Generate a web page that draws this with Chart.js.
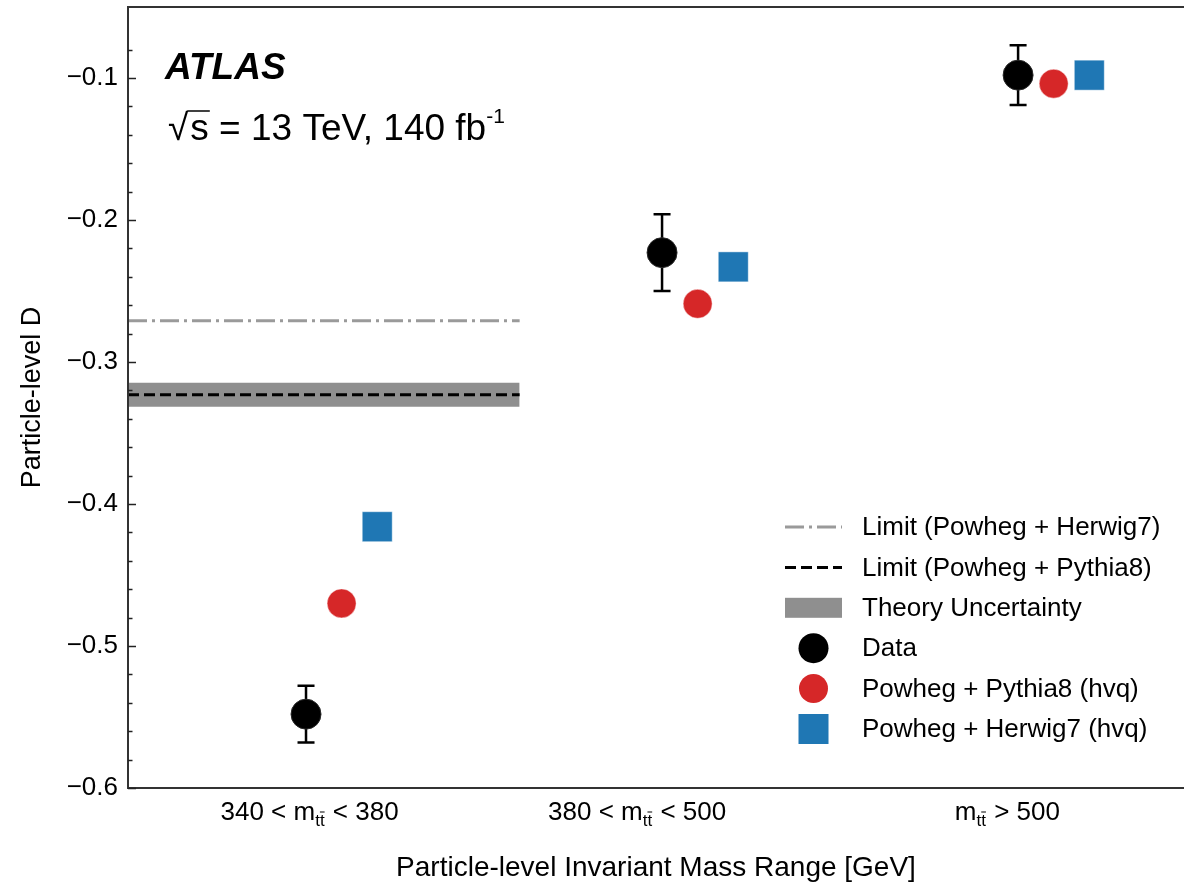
<!DOCTYPE html>
<html>
<head>
<meta charset="utf-8">
<script src="https://cdn.jsdelivr.net/npm/chart.js@4.4.0/dist/chart.umd.min.js"></script>
<style>
  html, body { margin: 0; padding: 0; background: #fff; overflow: hidden; }
</style>
</head>
<body>
<canvas id="myChart" width="1184" height="890"></canvas>
<script>
// bins (x = bin index)
const binCenters = [0, 1, 2];
const binPre = ['340 < m', '380 < m', 'm'];
const binPost = [' < 380', ' < 500', ' > 500'];

// particle-level D
const dataD = [-0.548, -0.223, -0.098];
const dataErr = [0.020, 0.027, 0.021];
const pythiaD = [-0.470, -0.259, -0.104];
const herwigD = [-0.416, -0.233, -0.098];

// limits + theory band (first bin only)
const limitHerwig = -0.271;
const limitPythia = -0.323;
const theoryLow = -0.3316;
const theoryHigh = -0.3147;
const limitSpan = [-0.5, 0.6];

const FONT = '"Liberation Sans", Arial, Helvetica, sans-serif';
const labelAt = [0.01, 0.93, 1.97];   // where the bin labels sit
const shiftPythia = 0.1, shiftHerwig = 0.2;
const xMax = 2.466;                   // right edge of the plot is cut off in the figure

function massLabel(ctx, cx, base, pre, post) {
  ctx.save();
  ctx.translate(cx, base);
  ctx.font = '26px ' + FONT;
  const w1 = ctx.measureText(pre).width;
  const w3 = ctx.measureText(post).width;
  ctx.font = '17px ' + FONT;
  const wt = ctx.measureText('t').width;
  const w2 = 2 * wt + 1;
  let xx = -(w1 + w2 + w3) / 2;
  ctx.fillStyle = '#000';
  ctx.textBaseline = 'alphabetic';
  ctx.font = '26px ' + FONT;
  ctx.fillText(pre, xx, 0);
  xx += w1;
  ctx.font = '17px ' + FONT;
  ctx.fillText('tt', xx, 6);
  ctx.strokeStyle = '#000'; ctx.lineWidth = 1;
  ctx.beginPath();
  ctx.moveTo(xx + wt, -8); ctx.lineTo(xx + 2 * wt, -8);
  ctx.stroke();
  xx += w2;
  ctx.font = '26px ' + FONT;
  ctx.fillText(post, xx, 0);
  ctx.restore();
}

const extras = {
  id: 'extras',
  beforeDatasetsDraw(chart) {
    const {ctx, scales: {x, y}} = chart;
    ctx.save();
    ctx.strokeStyle = '#000';
    ctx.lineWidth = 2.5;
    dataD.forEach((v, i) => {
      const px = x.getPixelForValue(binCenters[i]);
      const top = y.getPixelForValue(v + dataErr[i]);
      const bot = y.getPixelForValue(v - dataErr[i]);
      ctx.beginPath();
      ctx.moveTo(px, top); ctx.lineTo(px, bot);
      ctx.moveTo(px - 8.5, top); ctx.lineTo(px + 8.5, top);
      ctx.moveTo(px - 8.5, bot); ctx.lineTo(px + 8.5, bot);
      ctx.stroke();
    });
    ctx.restore();
  },
  afterDraw(chart) {
    const {ctx, chartArea: a, scales: {x, y}} = chart;
    ctx.save();

    // frame (no right edge in the figure)
    ctx.strokeStyle = '#333';
    ctx.lineWidth = 2;
    ctx.beginPath();
    ctx.moveTo(a.right, a.top); ctx.lineTo(a.left, a.top);
    ctx.lineTo(a.left, a.bottom); ctx.lineTo(a.right, a.bottom);
    ctx.stroke();

    // inward y ticks
    ctx.lineWidth = 1.5;
    ctx.strokeStyle = '#222';
    y.ticks.forEach(t => {
      const v = t.value;
      if (Math.abs(v * 50 - Math.round(v * 50)) > 1e-6) return;
      const major = Math.abs(v * 10 - Math.round(v * 10)) < 1e-6;
      const py = Math.round(y.getPixelForValue(v)) + 0.5;
      ctx.beginPath();
      ctx.moveTo(a.left, py); ctx.lineTo(a.left + (major ? 8 : 4.5), py);
      ctx.stroke();
    });

    // bin labels
    binPre.forEach((p, i) => massLabel(ctx, x.getPixelForValue(labelAt[i]), a.bottom + 32, p, binPost[i]));

    // ATLAS label
    ctx.fillStyle = '#000';
    ctx.textBaseline = 'alphabetic';
    ctx.font = 'italic bold 37px ' + FONT;
    ctx.fillText('ATLAS', 165, 79);
    ctx.font = '37px ' + FONT;
    ctx.fillText('\u221A', 168, 140);
    let sx = 168 + ctx.measureText('\u221A').width + 2;
    const sw = ctx.measureText('s').width;
    ctx.lineWidth = 1.5;
    ctx.strokeStyle = '#000';
    ctx.beginPath();
    ctx.moveTo(sx - 3, 111); ctx.lineTo(sx + sw + 1, 111);
    ctx.stroke();
    const main = 's = 13 TeV, 140 fb';
    ctx.fillText(main, sx, 140);
    sx += ctx.measureText(main).width;
    ctx.font = '21px ' + FONT;
    ctx.fillText('-1', sx, 123);

    // legend
    const lx = 785, lw = 57, tx = 862, y0 = 527, dy = 40.4;
    ctx.font = '26px ' + FONT;
    ctx.textBaseline = 'middle';
    const items = chart.data.datasets.filter(d => d.legendRow !== undefined)
      .sort((p, q) => p.legendRow - q.legendRow);
    items.forEach((d, i) => {
      const ry = y0 + i * dy;
      ctx.save();
      if (d.legendKind === 'line') {
        ctx.strokeStyle = d.borderColor;
        ctx.lineWidth = d.borderWidth;
        ctx.setLineDash(d.borderDash);
        ctx.beginPath(); ctx.moveTo(lx, ry); ctx.lineTo(lx + lw, ry); ctx.stroke();
      } else if (d.legendKind === 'band') {
        ctx.fillStyle = d.backgroundColor;
        ctx.fillRect(lx, ry - 10, lw, 20);
      } else if (d.pointStyle === 'rect') {
        ctx.fillStyle = d.backgroundColor;
        ctx.fillRect(lx + lw / 2 - 15, ry - 15, 30, 30);
      } else {
        ctx.fillStyle = d.backgroundColor;
        ctx.beginPath(); ctx.arc(lx + lw / 2, ry, d.pointRadius, 0, Math.PI * 2); ctx.fill();
      }
      ctx.restore();
      ctx.fillStyle = '#000';
      ctx.fillText(d.label, tx, ry + 1);
    });
    ctx.restore();
  }
};

const ctx = document.getElementById('myChart').getContext('2d');

const myChart = new Chart(ctx, {
  type: 'scatter',
  data: {
    datasets: [
      {
        label: 'Data', legendRow: 3,
        data: binCenters.map((c, i) => ({x: c, y: dataD[i]})),
        backgroundColor: '#000', borderColor: '#2a2a2a', borderWidth: 1,
        pointRadius: 15, pointHoverRadius: 15, order: 1
      },
      {
        label: 'Powheg + Pythia8 (hvq)', legendRow: 4,
        data: binCenters.map((c, i) => ({x: c + shiftPythia, y: pythiaD[i]})),
        backgroundColor: '#d62728', borderColor: 'rgba(255,255,255,0.45)', borderWidth: 1,
        pointRadius: 14.5, pointHoverRadius: 14.5, order: 2
      },
      {
        label: 'Powheg + Herwig7 (hvq)', legendRow: 5,
        data: binCenters.map((c, i) => ({x: c + shiftHerwig, y: herwigD[i]})),
        backgroundColor: '#1f77b4', borderColor: 'rgba(255,255,255,0.45)', borderWidth: 1,
        pointStyle: 'rect', pointRadius: 21.2, pointHoverRadius: 21.2, order: 3
      },
      {
        type: 'line', label: 'Limit (Powheg + Herwig7)', legendRow: 0, legendKind: 'line',
        data: limitSpan.map(v => ({x: v, y: limitHerwig})),
        borderColor: '#9a9a9a', borderWidth: 3, borderDash: [19, 5, 3, 5],
        pointRadius: 0, fill: false, order: 4
      },
      {
        type: 'line', label: 'Limit (Powheg + Pythia8)', legendRow: 1, legendKind: 'line',
        data: limitSpan.map(v => ({x: v, y: limitPythia})),
        borderColor: '#000', borderWidth: 3, borderDash: [11, 5],
        pointRadius: 0, fill: false, order: 5
      },
      {
        type: 'line', label: 'Theory Uncertainty', legendRow: 2, legendKind: 'band',
        data: limitSpan.map(v => ({x: v, y: theoryHigh})),
        borderWidth: 0, borderColor: 'rgba(0,0,0,0)', backgroundColor: '#8f8f8f',
        pointRadius: 0, fill: '+1', order: 6
      },
      {
        type: 'line', label: 'theory low',
        data: limitSpan.map(v => ({x: v, y: theoryLow})),
        borderWidth: 0, borderColor: 'rgba(0,0,0,0)',
        pointRadius: 0, fill: false, order: 7
      }
    ]
  },
  options: {
    responsive: false,
    animation: false,
    devicePixelRatio: 1,
    layout: { autoPadding: false, padding: { top: 7, right: 0, left: 0, bottom: 0 } },
    plugins: { legend: { display: false }, tooltip: { enabled: false } },
    scales: {
      x: {
        type: 'linear', min: -0.5, max: xMax,
        afterFit: s => { s.height = 102; s.paddingLeft = 0; s.paddingRight = 0; },
        grid: { display: false }, border: { display: false },
        ticks: { display: false },
        title: {
          display: true, text: 'Particle-level Invariant Mass Range [GeV]',
          color: '#000', font: { family: FONT, size: 28 }, padding: { bottom: 5 }
        }
      },
      y: {
        min: -0.6, max: -0.05,
        afterFit: s => { s.width = 128; s.paddingTop = 0; s.paddingBottom = 0; },
        grid: { display: false, drawTicks: false }, border: { display: false },
        ticks: {
          stepSize: 0.02, autoSkip: false, padding: 10, color: '#000',
          font: { family: FONT, size: 26 },
          callback: v => Math.abs(v * 10 - Math.round(v * 10)) < 1e-6
            ? '\u2212' + Math.abs(v).toFixed(1) : ''
        },
        title: {
          display: true, text: 'Particle-level D',
          color: '#000', font: { family: FONT, size: 27 }, padding: { top: 16 }
        }
      }
    }
  },
  plugins: [extras]
});
</script>
</body>
</html>
